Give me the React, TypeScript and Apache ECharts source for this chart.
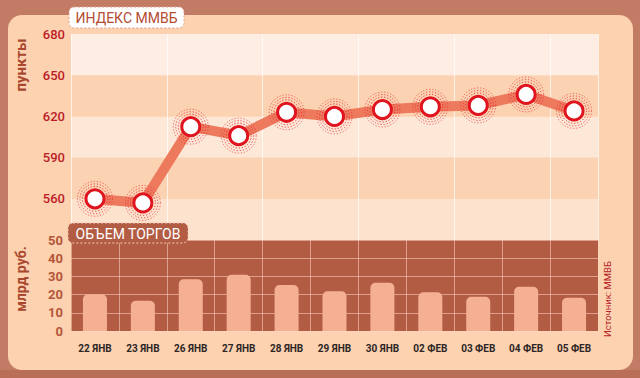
import React, { useEffect, useRef } from "react";
import * as echarts from "echarts";

const categories = ["22 ЯНВ", "23 ЯНВ", "26 ЯНВ", "27 ЯНВ", "28 ЯНВ", "29 ЯНВ", "30 ЯНВ", "02 ФЕВ", "03 ФЕВ", "04 ФЕВ", "05 ФЕВ"];
const indexValues = [560, 557, 612.5, 606, 623, 620, 625, 627, 628, 636, 624];
const volumeValues = [20.2, 16.6, 28.4, 30.9, 25.3, 21.8, 26.5, 21.3, 18.8, 24.3, 18.3];
const indexTicks = { min: 530, max: 680, interval: 30 };
const volumeTicks = { min: 0, max: 50, interval: 10 };
const titleTop = "ИНДЕКС ММВБ";
const titleBottom = "ОБЪЕМ ТОРГОВ";
const unitTop = "пункты";
const unitBottom = "млрд руб.";
const sourceText = "Источник: ММВБ";

const FONT = "Roboto, 'Noto Sans', sans-serif";

export default function App() {
  const ref = useRef<HTMLDivElement>(null);
  useEffect(() => {
    if (!ref.current) return;
    const chart = echarts.init(ref.current, undefined, { renderer: "svg" });
    const ring = (size: number, opacity: number, z: number) => ({
      type: "scatter",
      xAxisIndex: 0,
      yAxisIndex: 0,
      data: indexValues,
      symbol: "circle",
      symbolSize: size,
      silent: true,
      z,
      itemStyle: {
        color: "rgba(0,0,0,0)",
        borderColor: "#e42a30",
        borderWidth: 1,
        borderType: [1.2, 1.8],
        opacity,
      },
    });
    chart.setOption({
      animation: false,
      backgroundColor: "#c27b64",
      textStyle: { fontFamily: FONT },
      grid: [
        { left: 71, right: 42, top: 34, height: 206, show: false },
        { left: 71, right: 42, top: 240, height: 91, show: true, backgroundColor: "#b35c44", borderWidth: 0 },
      ],
      xAxis: [
        {
          type: "category",
          gridIndex: 0,
          data: categories,
          axisLabel: { show: false },
          axisTick: { show: false },
          axisLine: { show: false },
          splitLine: { show: true, lineStyle: { color: "rgba(255,255,255,0.7)", width: 1 } },
        },
        {
          type: "category",
          gridIndex: 1,
          data: categories,
          axisLabel: { show: true, color: "#2e2626", fontSize: 10, fontWeight: "bold", margin: 12, fontFamily: FONT },
          axisTick: { show: false },
          axisLine: { show: false },
          splitLine: { show: true, lineStyle: { color: "rgba(255,215,195,0.55)", width: 1 } },
        },
      ],
      yAxis: [
        {
          type: "value",
          gridIndex: 0,
          min: indexTicks.min,
          max: indexTicks.max,
          interval: indexTicks.interval,
          axisLabel: {
            color: "#bb2028",
            fontSize: 13,
            fontWeight: 500,
            margin: 6,
            fontFamily: FONT,
            formatter: (v: number) => (v === indexTicks.min ? "" : String(v)),
          },
          axisLine: { show: false },
          axisTick: { show: false },
          splitLine: { show: false },
          splitArea: {
            show: true,
            areaStyle: { color: ["#fde3cd", "#fbd3b3", "#fde8d8", "#fbd3b3", "#fdede2"] },
          },
        },
        {
          type: "value",
          gridIndex: 1,
          min: volumeTicks.min,
          max: volumeTicks.max,
          interval: volumeTicks.interval,
          axisLabel: { color: "#b5563a", fontSize: 13, fontWeight: "bold", margin: 8, fontFamily: FONT },
          axisLine: { show: false },
          axisTick: { show: false },
          splitLine: { show: true, lineStyle: { color: "rgba(255,215,195,0.55)", width: 1 } },
        },
      ],
      series: [
        {
          type: "line",
          xAxisIndex: 0,
          yAxisIndex: 0,
          data: indexValues,
          showSymbol: false,
          symbol: "none",
          z: 2,
          lineStyle: { color: "#ee7a5e", width: 10, join: "round", cap: "round" },
        },
        ring(35, 0.7, 3),
        ring(30, 0.85, 3),
        ring(25, 1, 3),
        {
          type: "scatter",
          xAxisIndex: 0,
          yAxisIndex: 0,
          data: indexValues,
          symbol: "circle",
          symbolSize: 18,
          z: 4,
          itemStyle: { color: "#ffffff", borderColor: "#e0141e", borderWidth: 3, opacity: 1 },
        },
        {
          type: "bar",
          xAxisIndex: 1,
          yAxisIndex: 1,
          data: volumeValues,
          barWidth: 24,
          itemStyle: { color: "#f5b094", borderRadius: [5, 5, 0, 0] },
        },
      ],
      graphic: [
        {
          type: "rect",
          z: -10,
          silent: true,
          shape: { x: 8, y: 15, width: 625, height: 355, r: 14 },
          style: { fill: "#fcd2b0" },
        },
        {
          type: "rect",
          z: -11,
          silent: true,
          shape: { x: 0, y: 370, width: 640, height: 8 },
          style: { fill: "#b96e58" },
        },
        {
          type: "rect",
          z: 100,
          shape: { x: 69, y: 7, width: 115, height: 21, r: 5 },
          style: { fill: "#ffffff", stroke: "#d9a08a", lineWidth: 1, lineDash: [2, 2] },
        },
        {
          type: "text",
          z: 101,
          x: 126.5,
          y: 18,
          style: { text: titleTop, fill: "#b34c33", font: `14px ${FONT}`, align: "center", verticalAlign: "middle" },
        },
        {
          type: "rect",
          z: 100,
          shape: { x: 68, y: 223, width: 120, height: 20, r: 5 },
          style: { fill: "#b35c44", stroke: "#f3c8b2", lineWidth: 1, lineDash: [2, 2] },
        },
        {
          type: "text",
          z: 101,
          x: 128,
          y: 233.5,
          style: { text: titleBottom, fill: "#ffffff", font: `14px ${FONT}`, align: "center", verticalAlign: "middle" },
        },
        {
          type: "text",
          z: 100,
          x: 21,
          y: 65,
          rotation: Math.PI / 2,
          style: { text: unitTop, fill: "#a9472f", font: `bold 15px ${FONT}`, align: "center", verticalAlign: "middle" },
        },
        {
          type: "text",
          z: 100,
          x: 21,
          y: 279,
          rotation: Math.PI / 2,
          style: { text: unitBottom, fill: "#a9472f", font: `bold 14px ${FONT}`, align: "center", verticalAlign: "middle" },
        },
        {
          type: "text",
          z: 100,
          x: 607,
          y: 299,
          rotation: Math.PI / 2,
          style: { text: sourceText, fill: "#b5242a", font: `9.5px ${FONT}`, align: "center", verticalAlign: "middle" },
        },
      ],
    });
    return () => chart.dispose();
  }, []);
  return <div ref={ref} style={{ position: "fixed", left: 0, top: 0, width: 640, height: 378 }} />;
}
